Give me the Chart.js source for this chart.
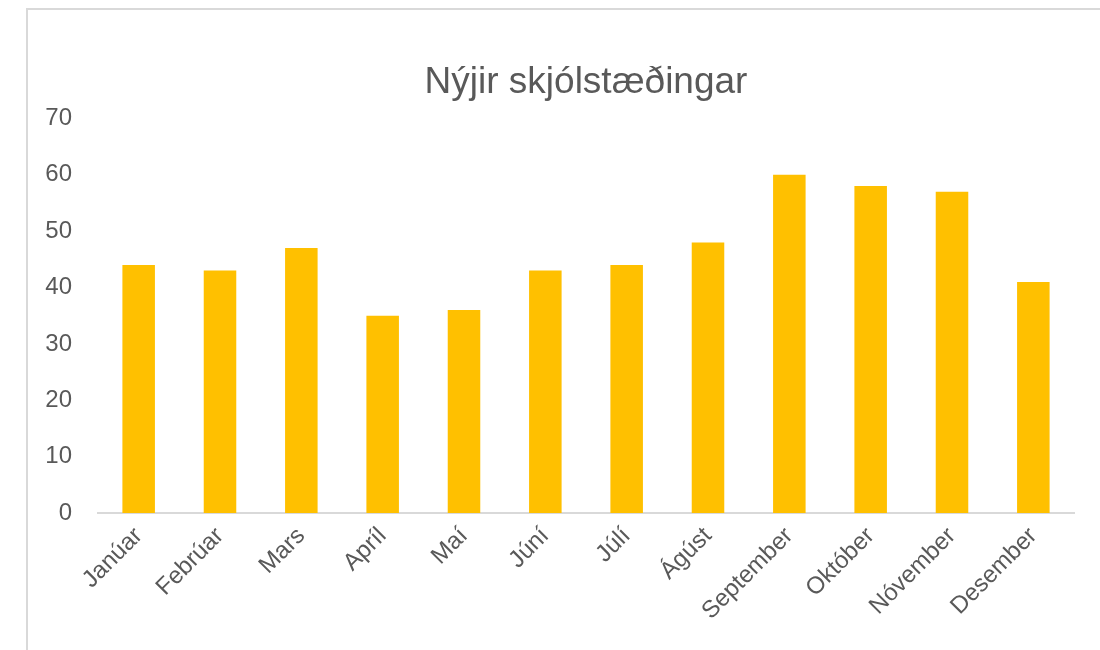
<!DOCTYPE html>
<html>
<head>
<meta charset="utf-8">
<script src="https://cdn.jsdelivr.net/npm/chart.js@4"></script>
<style>
  html, body { margin: 0; padding: 0; background: #fff; }
  #frame {
    position: absolute; left: 26px; top: 8px;
    width: 1074px; height: 642px;
    border-top: 2px solid #d9d9d9; border-left: 2px solid #d9d9d9;
  }
</style>
</head>
<body>
<div id="frame"><canvas id="chart"></canvas></div>
<script>
// Monthly new clients - bar chart
const months = ['Janúar', 'Febrúar', 'Mars', 'Apríl', 'Maí', 'Júní', 'Júlí', 'Ágúst', 'September', 'Október', 'Nóvember', 'Desember'];
const clients = [44, 43, 47, 35, 36, 43, 44, 48, 60, 58, 57, 41];
const yMax = 70;
const yStep = 10;

const textColor = '#595959';

new Chart(document.getElementById('chart'), {
  type: 'bar',
  data: {
    labels: months,
    datasets: [{
      label: 'Nýjir skjólstæðingar',
      data: clients,
      backgroundColor: '#FFC000',
      borderWidth: 0,
      categoryPercentage: 1,
      barPercentage: 0.4
    }]
  },
  options: {
    responsive: true,
    maintainAspectRatio: false,
    animation: false,
    layout: { padding: { top: 51, right: 28, left: 0, bottom: 0 } },
    plugins: {
      legend: { display: false },
      tooltip: { enabled: false },
      title: {
        display: true,
        fullSize: false,
        text: 'Nýjir skjólstæðingar',
        color: textColor,
        font: { family: 'Liberation Sans', size: 37, weight: 'normal' },
        padding: { top: 0, bottom: 13 }
      }
    },
    scales: {
      x: {
        grid: { display: false, drawTicks: false },
        border: { color: '#d9d9d9', width: 2 },
        ticks: {
          color: textColor,
          font: { family: 'Liberation Sans', size: 24 },
          minRotation: 45,
          maxRotation: 45,
          padding: 9
        },
        afterFit(scale) {
          scale.height = 139;
          scale.paddingLeft = 0;
          scale.paddingRight = 0;
        }
      },
      y: {
        min: 0,
        max: yMax,
        grid: { display: false, drawTicks: false },
        border: { display: false },
        ticks: {
          stepSize: yStep,
          color: textColor,
          font: { family: 'Liberation Sans', size: 24 },
          padding: 26
        },
        afterFit(scale) {
          scale.width = 70;
          scale.paddingTop = 0;
          scale.paddingBottom = 0;
        }
      }
    }
  }
});
</script>
</body>
</html>
